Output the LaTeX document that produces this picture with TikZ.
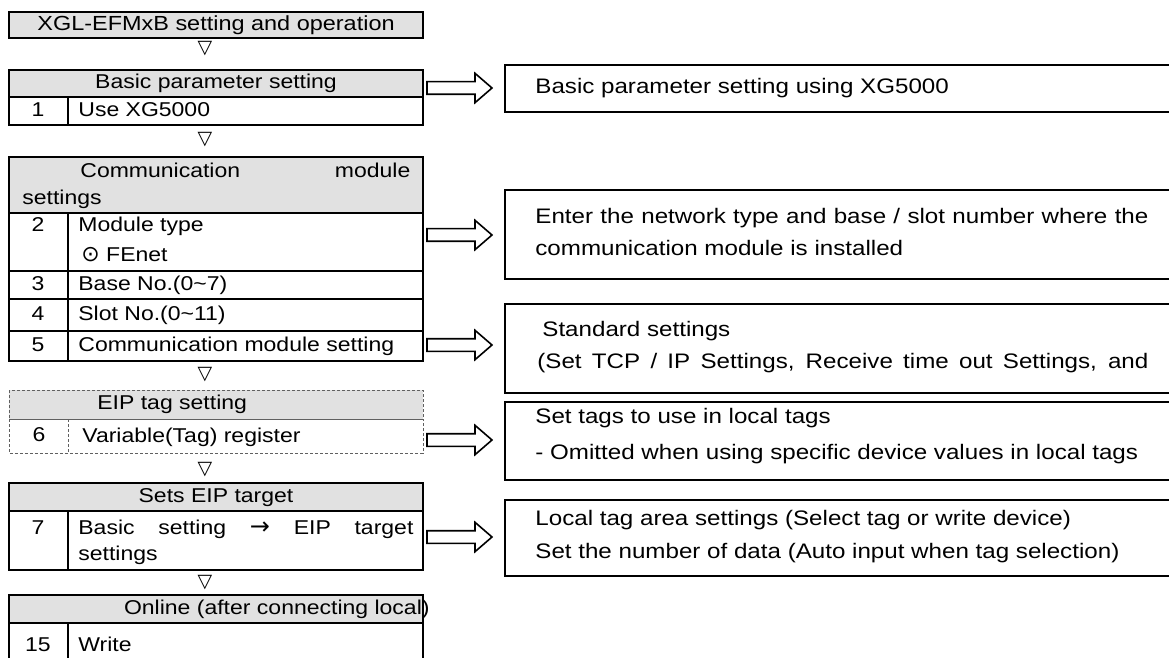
\documentclass[tikz,border=0pt]{standalone}
\usepackage{fontspec}
\setmainfont{Liberation Sans}[FakeStretch=1.15]
\newfontfamily\dejavu{DejaVu Sans}
\usepackage{tikz}
\usetikzlibrary{calc}
\definecolor{hdrgray}{HTML}{E1E1E1}
\definecolor{dashgray}{HTML}{606060}

\tikzset{
  cell/.style={draw,line width=.9pt},
  hdrcell/.style={cell,fill=hdrgray},
  eipcell/.style={draw=dashgray,line width=.5pt,dash pattern=on 1.6pt off .9pt},
  txt/.style={inner sep=0pt,text height=7.2pt,text depth=2pt,font=\fontsize{10}{12}\selectfont},
  rtxt/.style={inner sep=0pt,anchor=west,text height=7.6pt,text depth=2.1pt,font=\fontsize{10.5}{13}\selectfont},
  nextsym/.style={inner sep=0pt,font=\dejavu\fontsize{9.5}{10}\selectfont},
  infobox/.style={draw,line width=.9pt,anchor=north west,minimum width=350pt,inner sep=0pt,outer sep=0pt},
  fatarrow/.style={draw,line width=.8pt,fill=white,line join=miter}
}
% hollow block arrow between two named points
\newcommand{\fatarrow}[2]{%
  \draw[fatarrow] let \p1=(#1), \p2=(#2) in
    (\x1,\y1+3.15pt) -- (\x2-15pt,\y1+3.15pt) -- (\x2-15pt,\y1+7.35pt) -- (\x2-6.5pt,\y1)
    -- (\x2-15pt,\y1-7.35pt) -- (\x2-15pt,\y1-3.15pt) -- (\x1,\y1-3.15pt) -- cycle;}

\begin{document}
\begin{tikzpicture}[x=.5pt,y=-.5pt]
\clip (0,0) rectangle (1169,658);
\fill[white] (0,0) rectangle (1169,658);
% title
\draw[hdrcell,line width=.7pt] (9,12) rectangle (423,38);
\node[txt,font=\fontsize{10.2}{12}\selectfont] (title) at (216,25) {XGL-EFMxB setting and operation};
\foreach \y/\nm in {49/s1,140/s2,375/s3,470/s4,583/s5}{\node[nextsym] (\nm) at (205,\y) {▽};}
% basic parameter
\draw[hdrcell] (9,70) rectangle (423,97);
\draw[cell] (9,97) rectangle (423,125) (68,97) -- (68,125);
\node[txt] (basic) at (216,83.5) {Basic parameter setting};
\node[txt] (n1) at (38,111) {1};
\node[txt,anchor=west] (use) at (78,111) {Use XG5000};
% communication module
\draw[hdrcell] (9,157) rectangle (423,213);
\draw[cell] (9,213) rectangle (423,361) (68,213) -- (68,361);
\foreach \y in {271,299,331}{\draw[cell] (9,\y) -- (423,\y);}
\node[txt,anchor=west] (comm) at (80,172) {\makebox[165pt][s]{Communication module}};
\node[txt,anchor=west] (commb) at (22,199) {settings};
\node[txt] (n2) at (38,226) {2};
\node[txt,anchor=west] (modtype) at (78,226) {Module type};
\node[txt,anchor=west] (fenet) at (81,256) {{\dejavu\fontsize{11}{11}\selectfont ⊙} FEnet};
\foreach \y/\n/\lab in {285/3/Base No.(0\textasciitilde7),315/4/Slot No.(0\textasciitilde11),346/5/Communication module setting}{
  \node[txt] (n\n) at (38,\y) {\n};
  \node[txt,anchor=west] (row\n) at (78,\y) {\lab};}
% EIP tag
\draw[eipcell,fill=hdrgray] (9,390) rectangle (423,419);
\draw[eipcell] (9,419) rectangle (423,453) (68,419) -- (68,453);
\node[txt,anchor=west] (eip) at (97,404) {EIP tag setting};
\node[txt] (n6) at (39,436) {6};
\node[txt,anchor=west] (row6) at (82,437) {Variable(Tag) register};
% EIP target
\draw[hdrcell] (9,483) rectangle (423,511);
\draw[cell] (9,511) rectangle (423,570) (68,511) -- (68,570);
\node[txt] (target) at (216,497) {Sets EIP target};
\node[txt] (n7) at (38,529) {7};
\node[txt,anchor=west] (row7) at (78,529) {\makebox[167.5pt][s]{Basic setting {\dejavu\fontsize{12}{12}\selectfont →} EIP target}};
\node[txt,anchor=west] (row7b) at (78,555) {settings};
% online
\draw[hdrcell] (9,595) rectangle (423,623);
\draw[cell] (9,623) rectangle (423,700) (68,623) -- (68,700);
\node[txt,anchor=east] (online) at (430,609) {Online (after connecting local)};
\node[txt] (n15) at (38,646) {15};
\node[txt,anchor=west] (row15) at (78,646) {Write};

% right side notes
\node[infobox,minimum height=23.5pt] (info1) at (505,65) {};
\node[infobox,minimum height=44.5pt] (info2) at (505,190) {};
\node[infobox,minimum height=44.5pt] (info3) at (505,304) {};
\node[infobox,minimum height=39pt] (info4) at (505,402) {};
\node[infobox,minimum height=38pt] (info5) at (505,500) {};
\node[rtxt] (t1) at (535,88) {Basic parameter setting using XG5000};
\node[rtxt] (t2a) at (535,218) {\makebox[306.5pt][s]{Enter the network type and base / slot number where the}};
\node[rtxt] (t2b) at (535,250) {communication module is installed};
\node[rtxt] (t3a) at (542,331) {Standard settings};
\node[rtxt] (t3b) at (537,363) {\makebox[305.5pt][s]{(Set TCP / IP Settings, Receive time out Settings, and}};
\node[rtxt] (t4a) at (535,418) {Set tags to use in local tags};
\node[rtxt] (t4b) at (535,454) {- Omitted when using specific device values in local tags};
\node[rtxt] (t5a) at (535,520) {Local tag area settings (Select tag or write device)};
\node[rtxt] (t5b) at (535,553) {Set the number of data (Auto input when tag selection)};

% block arrows
\foreach \y/\nm in {88/src1,235/src2,345/src3,440/src4,537/src5}{\coordinate (\nm) at (427,\y);}
\fatarrow{src1}{info1.west}
\fatarrow{src2}{info2.west}
\fatarrow{src3}{info3.west}
\fatarrow{src4}{info4.west}
\fatarrow{src5}{info5.west}
\end{tikzpicture}
\end{document}
